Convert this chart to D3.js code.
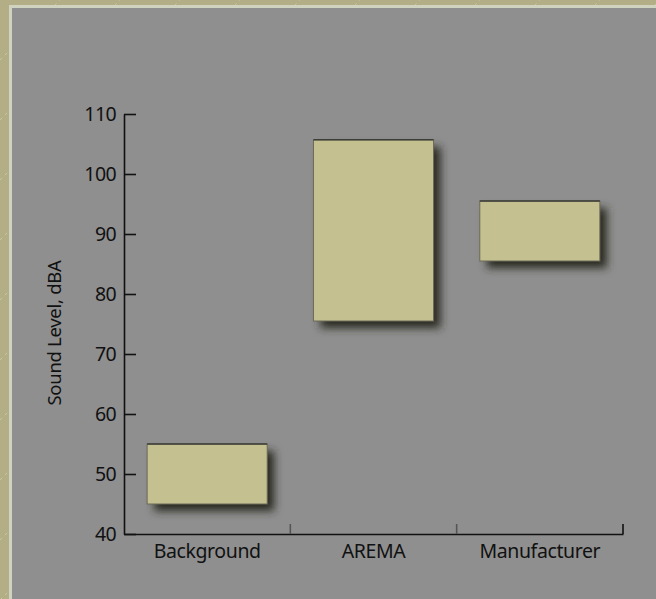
<!DOCTYPE html>
<html><head><meta charset="utf-8">
<script src="https://cdn.jsdelivr.net/npm/d3@7"></script>
<style>html,body{margin:0;padding:0;background:#b3af86;overflow:hidden}</style>
</head><body>
<script>
const categories = ["Background", "AREMA", "Manufacturer"];
const lowValues = [45, 75.5, 85.5];
const highValues = [55, 105.7, 95.5];
const yTicks = [40, 50, 60, 70, 80, 90, 100, 110];
const yLabel = "Sound Level, dBA";

const W = 656, H = 599;
const svg = d3.select("body").append("svg").attr("width", W).attr("height", H);
const defs = svg.append("defs");

// olive textured frame
const pat = defs.append("pattern").attr("id","tex").attr("patternUnits","userSpaceOnUse")
  .attr("width", 60).attr("height", 60);
pat.append("rect").attr("width",60).attr("height",60).attr("fill","#b3ae85");
pat.append("line").attr("x1",0).attr("y1",60).attr("x2",60).attr("y2",0)
  .attr("stroke","#d8d6b8").attr("stroke-width",0.8).attr("stroke-dasharray","3,4").attr("opacity",0.7);
svg.append("rect").attr("width",W).attr("height",H).attr("fill","url(#tex)");
svg.append("rect").attr("x",9).attr("y",5).attr("width",W).attr("height",H).attr("fill","#cfd3c0");
svg.append("rect").attr("x",12).attr("y",8).attr("width",W).attr("height",H).attr("fill","#8f8f8f");

const filt = defs.append("filter").attr("id","shadow").attr("x","-20%").attr("y","-20%").attr("width","150%").attr("height","150%");
filt.append("feGaussianBlur").attr("stdDeviation",4);

const x0 = 124, x1 = 623, y0 = 534, y1 = 114;
const x = d3.scaleBand().domain(categories).range([x0, x1]).paddingInner(0.278).paddingOuter(0.139);
const y = d3.scaleLinear().domain([40, 110]).range([y0, y1]);

const data = categories.map((c,i)=>({c, lo: lowValues[i], hi: highValues[i]}));

// shadows
svg.append("g").selectAll("rect").data(data).join("rect")
  .attr("x", d=>x(d.c)+7).attr("y", d=>y(d.hi)+7)
  .attr("width", x.bandwidth()).attr("height", d=>y(d.lo)-y(d.hi))
  .attr("fill","#2a2a20").attr("filter","url(#shadow)");

// bars
const bars = svg.append("g");
bars.selectAll("rect").data(data).join("rect")
  .attr("x", d=>x(d.c)).attr("y", d=>y(d.hi))
  .attr("width", x.bandwidth()).attr("height", d=>y(d.lo)-y(d.hi))
  .attr("fill","#c4c08f").attr("stroke","#6b6a58").attr("stroke-width",1);
bars.selectAll("line").data(data).join("line")
  .attr("x1", d=>x(d.c)).attr("x2", d=>x(d.c)+x.bandwidth())
  .attr("y1", d=>y(d.hi)).attr("y2", d=>y(d.hi))
  .attr("stroke","#3d3d38").attr("stroke-width",1.6);

const font = "'Noto Sans', 'Open Sans', sans-serif";

// y axis
const yAxis = svg.append("g").attr("transform",`translate(${x0},0)`)
  .call(d3.axisLeft(y).tickValues(yTicks).tickSize(-12).tickPadding(8).tickSizeOuter(0));
yAxis.select(".domain").attr("stroke","#111").attr("stroke-width",1.6);
yAxis.selectAll(".tick line").attr("stroke","#111").attr("stroke-width",1.6);
yAxis.selectAll(".tick text").attr("font-family",font).attr("font-size",19.5).attr("fill","#111")
  .attr("letter-spacing","-0.6px");

// x axis
const xAxis = svg.append("g").attr("transform",`translate(0,${y0})`)
  .call(d3.axisBottom(x).tickSize(0).tickPadding(10).tickSizeOuter(0));
xAxis.select(".domain").attr("stroke","#111").attr("stroke-width",1.6);
xAxis.selectAll(".tick text").attr("font-family",font).attr("font-size",19.5).attr("fill","#111")
  .attr("dy","0.71em").attr("letter-spacing","-0.4px");
// band separator ticks
const step = x.step();
const seps = categories.map(c => x(c) + x.bandwidth() + (step - x.bandwidth())/2);
svg.append("g").selectAll("line").data(seps).join("line")
  .attr("x1", d=>d).attr("x2", d=>d).attr("y1", y0).attr("y2", y0-10)
  .attr("stroke", (d,i)=> i===seps.length-1 ? "#111" : "#555").attr("stroke-width",1.6);

// y label
svg.append("text").attr("transform",`translate(61,${(y0+y1)/2 + 9}) rotate(-90)`)
  .attr("text-anchor","middle").attr("font-family",font).attr("font-size",18.5).attr("fill","#111")
  .attr("letter-spacing","-0.3px")
  .text(yLabel);
</script>
</body></html>
